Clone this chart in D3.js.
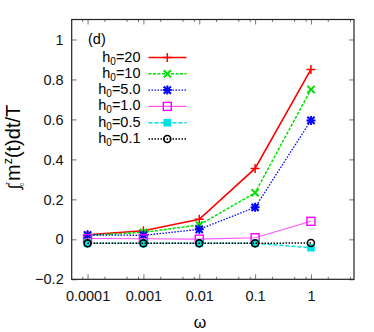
<!DOCTYPE html>
<html>
<head>
<meta charset="utf-8">
<script src="https://cdn.jsdelivr.net/npm/d3@7"></script>
<style>
  body { margin: 0; background: #fff; }
  text { font-family: "Liberation Sans Narrow", "Liberation Sans", Arial, sans-serif; }
</style>
</head>
<body>
<svg id="chart" width="374" height="332"></svg>
<script>
// data
var omegas = [0.0001, 0.001, 0.01, 0.1, 1];
var xTickLabels = ["0.0001", "0.001", "0.01", "0.1", "1"];
var yTicks = [-0.2, 0, 0.2, 0.4, 0.6, 0.8, 1];
var seriesNames = ["20", "10", "5.0", "1.0", "0.5", "0.1"];
var h20 = [0.023, 0.043, 0.10, 0.355, 0.85];
var h10 = [0.020, 0.035, 0.072, 0.233, 0.75];
var h5 = [0.022, 0.020, 0.050, 0.160, 0.595];
var h1 = [0.004, 0.003, 0.001, 0.008, 0.090];
var h05 = [-0.020, -0.020, -0.020, -0.020, -0.042];
var h01 = [-0.020, -0.020, -0.020, -0.020, -0.018];

var allSeries = [h20, h10, h5, h1, h05, h01];
var colors = ["#ff0000", "#00e000", "#0000ff", "#ff55ff", "#00e0e0", "#000000"];
var markerColors = ["#ff0000", "#00e000", "#0000ff", "#ff00ff", "#00e0e0", "#000000"];
var dashes = [null, "3,1.5", "1.5,1.5", null, "4,2", "1.5,1.5"];
var widths = [1.6, 1.5, 1.3, 1.1, 1.5, 1.5];
var markers = ["plus", "cross", "star", "square", "fsquare", "circle"];

var svg = d3.select("#chart");
// plot box (note: "top" is reserved on window, so use plot*)
var plotL = 71.7, plotR = 354, plotT = 19.5, plotB = 279.3;

var x = d3.scaleLog().domain([5.2e-5, 5.9]).range([plotL, plotR]);
var y = d3.scaleLinear().domain([-0.2, 1.1]).range([plotB, plotT]);

// minor log ticks (2, 5, 8 of each decade show in the picture)
var minor = [];
[-5, -4, -3, -2, -1, 0].forEach(function(e){
  [2, 5, 8].forEach(function(m){
    var v = m * Math.pow(10, e);
    if (v > x.domain()[0] && v < x.domain()[1]) minor.push(v);
  });
});

function styleAxis(g){
  g.select(".domain").remove();
  g.selectAll(".tick line").attr("stroke", "#777");
  g.selectAll("text").attr("font-size", 14.5).attr("fill", "#111");
}

// bottom axis
svg.append("g").attr("transform", "translate(0," + plotB + ")")
  .call(d3.axisBottom(x).tickValues(omegas).tickFormat(function(d, i){ return xTickLabels[i]; })
    .tickSize(-5).tickPadding(11.5))
  .call(styleAxis);
svg.append("g").attr("transform", "translate(0," + plotB + ")")
  .call(d3.axisBottom(x).tickValues(minor).tickFormat("").tickSize(-2.5))
  .call(styleAxis);
// top mirror
svg.append("g").attr("transform", "translate(0," + plotT + ")")
  .call(d3.axisTop(x).tickValues(omegas).tickFormat("").tickSize(-5))
  .call(styleAxis);
svg.append("g").attr("transform", "translate(0," + plotT + ")")
  .call(d3.axisTop(x).tickValues(minor).tickFormat("").tickSize(-2.5))
  .call(styleAxis);
// left axis
svg.append("g").attr("transform", "translate(" + plotL + ",0)")
  .call(d3.axisLeft(y).tickValues(yTicks).tickFormat(function(d){ return d3.format("")(+d.toFixed(1)); })
    .tickSize(-5).tickPadding(8))
  .call(styleAxis);
// right mirror
svg.append("g").attr("transform", "translate(" + plotR + ",0)")
  .call(d3.axisRight(y).tickValues(yTicks).tickFormat("").tickSize(-5))
  .call(styleAxis);

// frame
svg.append("rect").attr("x", plotL).attr("y", plotT)
  .attr("width", plotR - plotL).attr("height", plotB - plotT)
  .attr("fill", "none").attr("stroke", "#222").attr("stroke-width", 1.2);

function drawMarker(g, type, cx, cy, col){
  var s = 4.5;
  if (type === "plus" || type === "star"){
    g.append("path").attr("d", "M" + (cx - s) + "," + cy + "H" + (cx + s) + "M" + cx + "," + (cy - s) + "V" + (cy + s))
      .attr("stroke", col).attr("stroke-width", type === "star" ? 2 : 1.5);
  }
  if (type === "cross" || type === "star"){
    var t = 3.6;
    g.append("path").attr("d", "M" + (cx - t) + "," + (cy - t) + "L" + (cx + t) + "," + (cy + t) + "M" + (cx - t) + "," + (cy + t) + "L" + (cx + t) + "," + (cy - t))
      .attr("stroke", col).attr("stroke-width", 2);
  }
  if (type === "square"){
    g.append("rect").attr("x", cx - 4).attr("y", cy - 4).attr("width", 8).attr("height", 8)
      .attr("fill", "none").attr("stroke", col).attr("stroke-width", 1.4);
  }
  if (type === "fsquare"){
    g.append("rect").attr("x", cx - 3.8).attr("y", cy - 3.8).attr("width", 7.6).attr("height", 7.6)
      .attr("fill", col);
  }
  if (type === "circle"){
    g.append("circle").attr("cx", cx).attr("cy", cy).attr("r", 3.5)
      .attr("fill", "none").attr("stroke", col).attr("stroke-width", 1.6);
  }
}

var line = d3.line().x(function(d, i){ return x(omegas[i]); }).y(function(d){ return y(d); });

allSeries.forEach(function(vals, k){
  var g = svg.append("g");
  g.append("path").datum(vals).attr("d", line)
    .attr("fill", "none").attr("stroke", colors[k]).attr("stroke-width", widths[k])
    .attr("stroke-dasharray", dashes[k]);
  vals.forEach(function(v, i){
    drawMarker(g, markers[k], x(omegas[i]), y(v), markerColors[k]);
  });
});

// legend
svg.append("text").attr("x", 88).attr("y", 44).attr("font-size", 14.5).text("(d)");
var legY0 = 57.5, legDy = 16.3;
seriesNames.forEach(function(name, k){
  var yy = legY0 + k * legDy;
  var t = svg.append("text").attr("x", 140.5).attr("y", yy + 4).attr("text-anchor", "end").attr("font-size", 14.5);
  t.append("tspan").text("h");
  t.append("tspan").attr("font-size", 10).attr("dy", 3).text("0");
  t.append("tspan").attr("dy", -3).text("=" + name);
  var g = svg.append("g");
  g.append("line").attr("x1", 148.5).attr("x2", 186.5).attr("y1", yy).attr("y2", yy)
    .attr("stroke", colors[k]).attr("stroke-width", widths[k]).attr("stroke-dasharray", dashes[k]);
  drawMarker(g, markers[k], 167.3, yy, markerColors[k]);
});

// axis titles
svg.append("text").attr("x", 200).attr("y", 328).attr("text-anchor", "middle")
  .attr("font-size", 16).attr("font-family", "DejaVu Serif, serif").text("ω");

var yl = svg.append("text").attr("transform", "translate(20,147) rotate(-90)")
  .attr("text-anchor", "middle").attr("font-size", 20);
yl.append("tspan").attr("font-size", 16).text("∫");
yl.append("tspan").attr("font-size", 5).attr("dy", -10).attr("dx", 0).text("T");
yl.append("tspan").attr("font-size", 5).attr("dy", 14).attr("dx", -4).text("0");
yl.append("tspan").attr("dy", -4).attr("dx", 2).text("m");
yl.append("tspan").attr("font-size", 12.5).attr("dy", -8.5).text("z");
yl.append("tspan").attr("dy", 8.5).text("(t)dt/T");
</script>
</body>
</html>
